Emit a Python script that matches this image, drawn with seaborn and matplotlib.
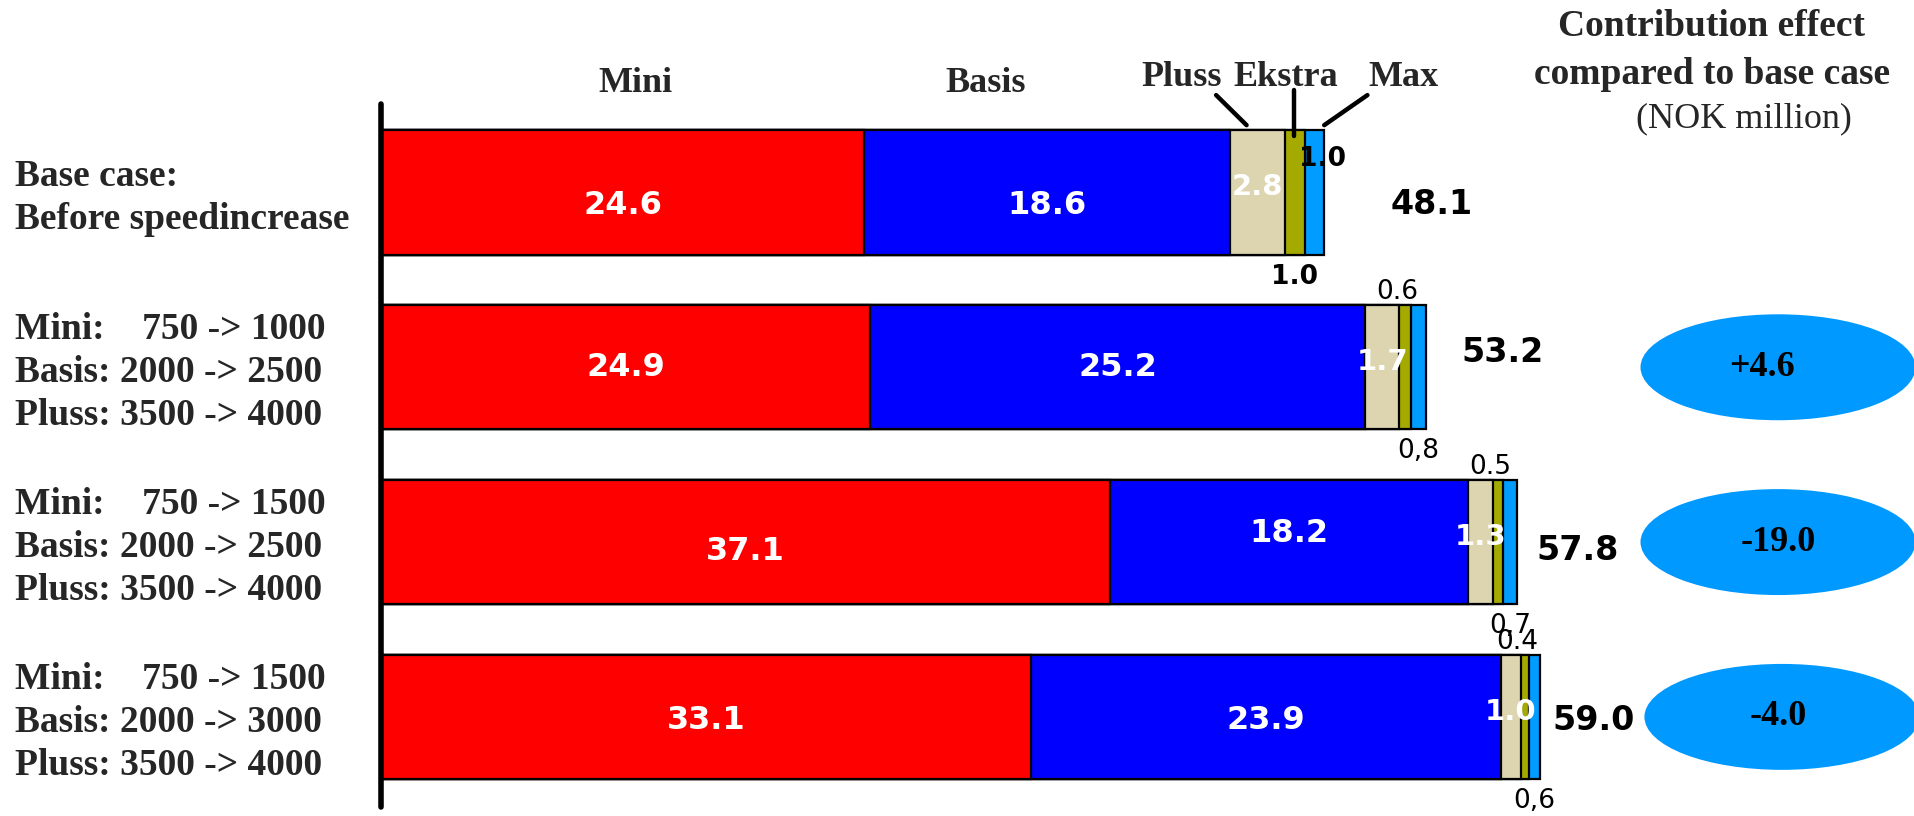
import matplotlib.pyplot as plt
import seaborn as sns
import pandas as pd
from matplotlib.patches import Ellipse


cases = ['base', 'alt1', 'alt2', 'alt3']
case_labels = ['Base case:\nBefore speedincrease',
               'Mini:    750 -> 1000\nBasis: 2000 -> 2500\nPluss: 3500 -> 4000',
               'Mini:    750 -> 1500\nBasis: 2000 -> 2500\nPluss: 3500 -> 4000',
               'Mini:    750 -> 1500\nBasis: 2000 -> 3000\nPluss: 3500 -> 4000']
mini = [24.6, 24.9, 37.1, 33.1]
basis = [18.6, 25.2, 18.2, 23.9]
pluss = [2.8, 1.7, 1.3, 1.0]
ekstra = [1.0, 0.6, 0.5, 0.4]
maks = [1.0, 0.8, 0.7, 0.6]
ekstra_text = ['1.0', '0.6', '0.5', '0.4']
maks_text = ['1.0', '0,8', '0,7', '0,6']
totals = [48.1, 53.2, 57.8, 59.0]
effect = ['', '+4.6', '-19.0', '-4.0']

segments = ['Mini', 'Basis', 'Pluss', 'Ekstra', 'Max']
colors = ['#FF0000', '#0000FF', '#DDD4B0', '#A5AA00', '#009CFF']

W, H = 1915, 816
X0 = 381                 # pixel position of the bar origin
PX_UNIT = 19.65          # pixels per NOK million
XMAX = (W - X0) / PX_UNIT
BAR_H = 0.71

SERIF = ['Liberation Serif', 'DejaVu Serif']
SANS = ['DejaVu Sans']

df = pd.DataFrame({'case': cases, 'Mini': mini, 'Basis': basis, 'Pluss': pluss,
                   'Ekstra': ekstra, 'Max': maks})
cum = df[segments].cumsum(axis=1)

sns.set_style('white')
plt.rcParams['font.family'] = SANS

fig = plt.figure(figsize=(W / 100, H / 100), dpi=100)
ax = fig.add_axes([X0 / W, 0, 1 - X0 / W, 1])

# stacked bars: draw cumulative totals from the right-most segment backwards
for seg, col in reversed(list(zip(segments, colors))):
    sns.barplot(x=cum[seg], y=df['case'], orient='h', color=col, width=BAR_H,
                edgecolor='black', linewidth=1.6, saturation=1, ax=ax)

ax.set_xlim(0, XMAX)
ax.set_ylim(3.567, -1.101)
ax.set_xlabel('')
ax.set_ylabel('')
ax.set_xticks([])
ax.set_yticks([])
for s in ['top', 'right', 'bottom']:
    ax.spines[s].set_visible(False)
ax.spines['left'].set_linewidth(4)
ax.spines['left'].set_color('black')
ax.spines['left'].set_capstyle('round')
ax.spines['left'].set_bounds(-0.506, 3.515)

# small vertical nudges of the in-bar labels, as in the original slide
mini_dy = [0.073, 0.0, 0.056, 0.02]
basis_dy = [0.073, 0.0, -0.05, 0.02]

bold_sans = dict(fontfamily=SANS, fontweight='bold', ha='center', va='center')
for i in range(len(cases)):
    c_mini = mini[i] / 2
    c_basis = mini[i] + basis[i] / 2
    c_pluss = cum['Basis'][i] + pluss[i] / 2
    c_ekstra = cum['Pluss'][i] + ekstra[i] / 2
    c_maks = cum['Ekstra'][i] + maks[i] / 2

    ax.text(c_mini, i + mini_dy[i], f'{mini[i]:.1f}', color='white', fontsize=23, **bold_sans)
    ax.text(c_basis, i + basis_dy[i], f'{basis[i]:.1f}', color='white', fontsize=23, **bold_sans)
    ax.text(c_pluss, i - 0.03, f'{pluss[i]:.1f}', color='white', fontsize=21, **bold_sans)

    if i == 0:
        ax.text(c_ekstra, i + 0.484, ekstra_text[i], color='black', fontsize=19, **bold_sans)
        ax.text(c_maks + 0.4, i - 0.19, maks_text[i], color='black', fontsize=19, **bold_sans)
    else:
        ax.text(c_ekstra - 0.4, i - 0.43, ekstra_text[i], color='black', fontsize=19,
                fontfamily=SANS, ha='center', va='center')
        ax.text(c_maks, i + 0.48, maks_text[i], color='black', fontsize=19,
                fontfamily=SANS, ha='center', va='center')

total_pad = [3.4, 1.8, 1.0, 0.6]
total_dy = [0.07, -0.085, 0.05, 0.02]
for i in range(len(cases)):
    ax.text(cum['Max'][i] + total_pad[i], i + total_dy[i], f'{totals[i]:.1f}',
            color='black', fontsize=24, fontfamily=SANS, fontweight='bold',
            ha='left', va='center')

# contribution ellipses
ell_x = (1778 - X0) / PX_UNIT
ell_dx = [0, 0, 0, 0.2]
txt_dx = [0, -0.8, 0, 0]
for i in range(1, len(cases)):
    ax.add_patch(Ellipse((ell_x + ell_dx[i], i), width=275 / PX_UNIT, height=0.606,
                         facecolor='#0099FF', edgecolor='none', clip_on=False))
    ax.text(ell_x + txt_dx[i], i, effect[i], fontsize=26, fontfamily=SERIF, fontweight='bold',
            ha='center', va='center', color='black')

# leader lines from the small segment headers
top = -BAR_H / 2
p_mid = cum['Basis'][0] + pluss[0] / 2
e_mid = cum['Pluss'][0] + ekstra[0] / 2
m_mid = cum['Ekstra'][0] + maks[0] / 2
ax.plot([p_mid - 2.1, p_mid - 0.55], [-0.557, top - 0.03], color='black', lw=3.2, clip_on=False)
ax.plot([e_mid - 0.05, e_mid - 0.05], [-0.586, top + 0.03], color='black', lw=3.2, clip_on=False)
ax.plot([m_mid + 2.7, m_mid + 0.5], [-0.557, top - 0.03], color='black', lw=3.2, clip_on=False)

# row labels on the left
for i, lab in enumerate(case_labels):
    y_fig = 1 - (198 + 174.8 * i) / H
    fig.text(15 / W, y_fig, lab, fontsize=27, fontfamily=SERIF, fontweight='bold',
             ha='left', va='center', linespacing=1.29)

# headers
for txt, xp, yp in [('Mini', 635, 84), ('Basis', 986, 84), ('Pluss', 1182, 77),
                    ('Ekstra', 1286, 77), ('Max', 1404, 77)]:
    fig.text(xp / W, 1 - yp / H, txt, fontsize=26, fontfamily=SERIF, fontweight='bold',
             ha='center', va='center')

fig.text(1712 / W, 1 - 26 / H, 'Contribution effect', fontsize=27, fontfamily=SERIF,
         fontweight='bold', ha='center', va='center')
fig.text(1712 / W, 1 - 74 / H, 'compared to base case', fontsize=27, fontfamily=SERIF,
         fontweight='bold', ha='center', va='center')
fig.text(1744 / W, 1 - 119 / H, '(NOK million)', fontsize=26, fontfamily=SERIF,
         ha='center', va='center')

fig.savefig('out.png', dpi=100, facecolor='white')
